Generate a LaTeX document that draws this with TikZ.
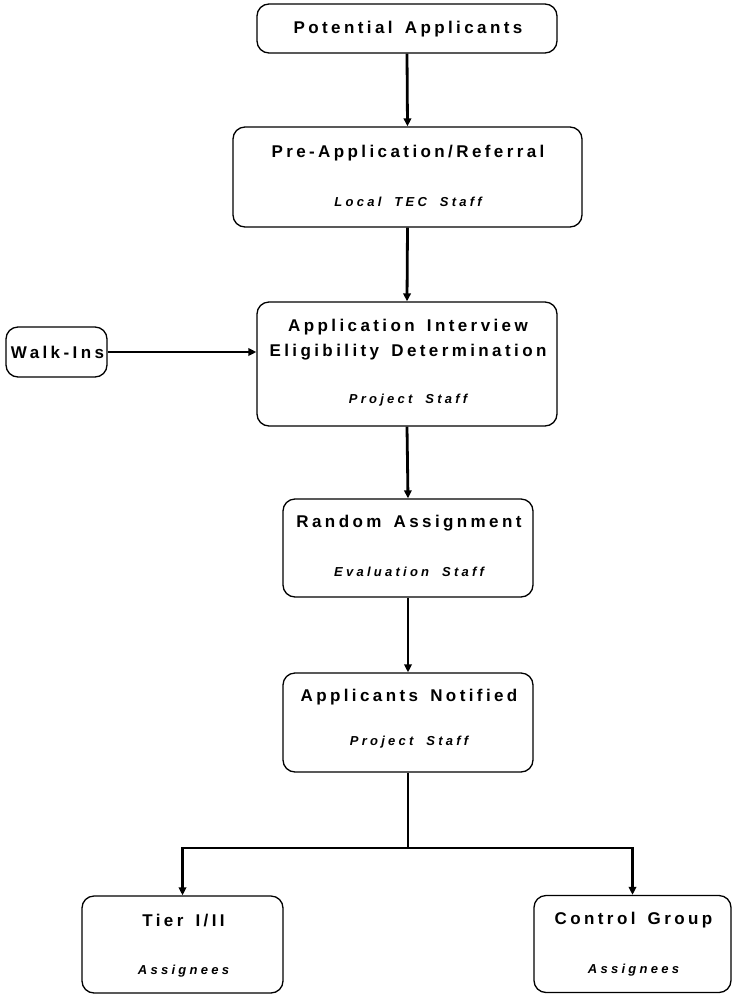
\documentclass[tikz,border=0pt]{standalone}
\usepackage{fontspec}
\setmainfont{Liberation Sans}
\newfontfamily\titlefont[LetterSpace=20,WordSpace=1.5]{Liberation Sans Bold}
\newfontfamily\subfont[LetterSpace=25,WordSpace=1.9]{Liberation Sans Bold Italic}
\usetikzlibrary{arrows.meta}
\tikzset{
  box/.style={draw, line width=1.3pt, rounded corners=12pt, inner sep=0pt},
  ttl/.style={font=\titlefont\fontsize{17}{20}\selectfont, inner sep=0pt},
  sub/.style={font=\subfont\fontsize{13}{15}\selectfont, inner sep=0pt},
  conn/.style={line width=2.8pt},
  arr/.style={line width=2.8pt, -{Triangle[length=8pt,width=7.5pt]}},
}
\begin{document}
\begin{tikzpicture}[x=1pt,y=-1pt]
\useasboundingbox (0,0) rectangle (732,994);
% boxes
\node[box, minimum width=300pt, minimum height=49pt] (b1) at (407,28.5) {};
\node[box, minimum width=349pt, minimum height=100pt] (b2) at (407.5,177) {};
\node[box, minimum width=300pt, minimum height=124pt] (b3) at (407,364) {};
\node[box, minimum width=101pt, minimum height=50pt] (walk) at (56.5,352) {};
\node[box, minimum width=250pt, minimum height=98pt] (b4) at (408,548) {};
\node[box, minimum width=250pt, minimum height=99pt] (b5) at (408,722.5) {};
\node[box, minimum width=201pt, minimum height=97pt] (tier) at (182.5,944.5) {};
\node[box, minimum width=197pt, minimum height=97pt] (ctrl) at (632.5,944) {};
% texts
\node[ttl] (t1) at (408,29) {Potential Applicants};
\node[ttl] (t2) at (408,153) {Pre-Application/Referral};
\node[sub] (s2) at (408,202) {Local TEC Staff};
\node[ttl] (t3a) at (408,327) {Application Interview};
\node[ttl] (t3b) at (408,352) {Eligibility Determination};
\node[sub] (s3) at (408,400) {Project Staff};
\node[ttl] (tw) at (57.5,352) {Walk-Ins};
\node[ttl] (t4) at (409,523) {Random Assignment};
\node[sub] (s4) at (409,572) {Evaluation Staff};
\node[ttl] (t5) at (409,697) {Applicants Notified};
\node[sub] (s5) at (409,742) {Project Staff};
\node[ttl] (t6) at (183.5,920) {Tier I/II};
\node[sub] (s6) at (183.5,971) {Assignees};
\node[ttl] (t7) at (633.5,920) {Control Group};
\node[sub] (s7) at (633.5,970) {Assignees};
% connectors
\coordinate (split) at (408,848);
\draw[arr] (b1.south) -- (b2.north);
\draw[arr] (b2.south) -- (b3.north);
\draw[arr] (walk.east) -- (b3.west |- walk.east);
\draw[arr] (b3.south) -- (b4.north);
\draw[arr] (b4.south) -- (b5.north);
\draw[conn] (b5.south) -- (split);
\draw[arr] (split) -| (tier.north);
\draw[arr] (split) -| (ctrl.north);
\end{tikzpicture}
\end{document}
